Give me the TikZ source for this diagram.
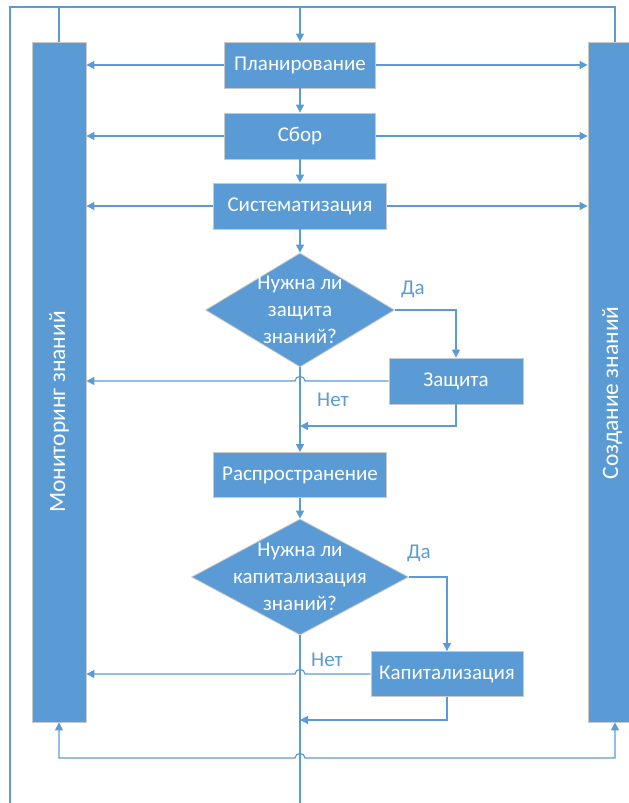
\documentclass[tikz,border=0pt]{standalone}
\usepackage{fontspec}
\setmainfont{Carlito}
\usetikzlibrary{shapes.geometric,arrows.meta}

\definecolor{sinij}{HTML}{5B9BD5}
\definecolor{kant}{HTML}{C9C9C9}

\tikzset{
  blok/.style={rectangle,fill=sinij,draw=kant,line width=0.8pt,text=white,
    inner sep=0pt,minimum height=46pt},
  romb/.style={diamond,fill=sinij,draw=kant,line width=0.8pt,inner sep=0pt},
  polosa/.style={rectangle,fill=sinij,draw=kant,line width=0.8pt,inner sep=0pt,
    minimum height=680pt},
  bokovoj/.style={rotate=90,text=white,font=\fontsize{23.5}{28}\selectfont},
  vopros/.style={text=white,align=center,inner sep=0pt},
  liniya/.style={draw=sinij,line width=1.2pt},
  strelka/.style={liniya,-{Triangle[length=8pt,width=8pt]}},
  dvustrelka/.style={liniya,{Triangle[length=8pt,width=8pt]}-{Triangle[length=8pt,width=8pt]}},
  metka/.style={text=sinij,inner sep=0pt}
}

\begin{document}
\begin{tikzpicture}[x=1pt,y=-1pt,font=\fontsize{21}{27}\selectfont]
  \useasboundingbox (0,0) rectangle (629,803);
  \clip (0,0) rectangle (629,803);

  % side bars
  \node[polosa,minimum width=54pt] (monitor) at (59,382) {};
  \node[polosa,minimum width=50pt] (sozd) at (613,382) {};
  \node[bokovoj] (monitortxt) at (59,412) {Мониторинг знаний};
  \node[bokovoj] (sozdtxt) at (612,393) {Создание знаний};

  % main column
  \node[blok,minimum width=151pt] (plan) at (300,65) {Планирование};
  \node[blok,minimum width=151pt] (sbor) at (300,136) {Сбор};
  \node[blok,minimum width=173pt] (sist) at (300,206) {Систематизация};
  \node[romb,minimum width=189pt,minimum height=114pt] (q1) at (300,310) {};
  \node[vopros] (q1txt) at (q1) {Нужна ли\\защита\\знаний?};
  \node[blok,minimum width=134pt] (zash) at (456,381) {Защита};
  \node[blok,minimum width=173pt,minimum height=45pt] (rasp) at (300,475) {Распространение};
  \node[romb,minimum width=217pt,minimum height=116pt] (q2) at (300,577) {};
  \node[vopros] (q2txt) at (q2) {Нужна ли\\капитализация\\знаний?};
  \node[blok,minimum width=152pt,minimum height=45pt] (kap) at (447,674) {Капитализация};

  % labels
  \node[metka] (da1) at (413,289) {Да};
  \node[metka] (net1) at (333,400) {Нет};
  \node[metka] (da2) at (419,553) {Да};
  \node[metka] (net2) at (327,660) {Нет};

  % helper points
  \coordinate (niz) at (10,803);
  \coordinate (verh) at (300,7);
  \coordinate (pravo) at (615,7);
  \coordinate (skach1) at (q1.south |- zash.west);
  \coordinate (skach2) at (q1.south |- kap.west);
  \coordinate (skach3) at (300,758);
  \coordinate (vozvrat1) at (300,426);
  \coordinate (vozvrat2) at (300,720);

  % outer frame
  \draw[liniya] (niz) |- (pravo) -- (pravo |- sozd.north);
  \draw[liniya] (monitor.north) -- (monitor.north |- verh);
  \draw[strelka] (verh) -- (plan.north);

  % to the bars
  \foreach \b in {plan,sbor,sist} {
    \draw[strelka] (\b.west) -- (\b.west -| monitor.east);
    \draw[strelka] (\b.east) -- (\b.east -| sozd.west);
  }

  % column
  \draw[strelka] (plan) -- (sbor);
  \draw[strelka] (sbor) -- (sist);
  \draw[strelka] (sist) -- (q1);
  \draw[strelka] (q1.south) -- (rasp.north);
  \draw[strelka] (rasp) -- (q2);
  \draw[liniya] (q2.south) -- (q2.south |- niz);

  % first question
  \draw[strelka] (q1.east) -| (zash.north);
  \draw[strelka] (zash.west) -- ([xshift=5pt]skach1)
    .. controls +(0,-6) and +(0,-6) .. ([xshift=-5pt]skach1)
    -- (skach1 -| monitor.east);
  \draw[strelka] (zash.south) |- (vozvrat1);

  % second question
  \draw[strelka] (q2.east) -| (kap.north);
  \draw[strelka] (kap.west) -- ([xshift=5pt]skach2)
    .. controls +(0,-6) and +(0,-6) .. ([xshift=-5pt]skach2)
    -- (skach2 -| monitor.east);
  \draw[strelka] (kap.south) |- (vozvrat2);

  % bottom link
  \draw[dvustrelka] (monitor.south) |- ([xshift=-5pt]skach3)
    .. controls +(0,-6) and +(0,-6) .. ([xshift=5pt]skach3)
    -| (pravo |- sozd.south);
\end{tikzpicture}
\end{document}
